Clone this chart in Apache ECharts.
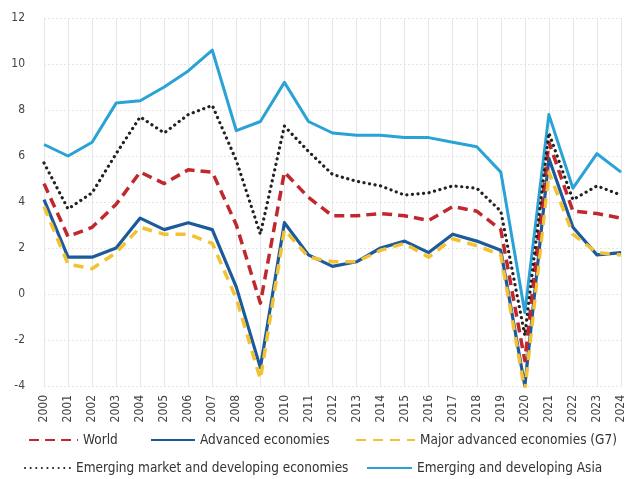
<!DOCTYPE html>
<html><head><meta charset="utf-8">
<script src="https://cdn.jsdelivr.net/npm/echarts@6/dist/echarts.min.js"></script>
<style>html,body{margin:0;padding:0;background:#fff}#c{width:629px;height:479px}</style>
</head><body><div id="c"></div>
<script>
const years = ['2000','2001','2002','2003','2004','2005','2006','2007','2008','2009','2010','2011','2012','2013','2014','2015','2016','2017','2018','2019','2020','2021','2022','2023','2024'];
const world    = [4.8, 2.5, 2.9, 3.9, 5.3, 4.8, 5.4, 5.3, 3.0, -0.4, 5.3, 4.2, 3.4, 3.4, 3.5, 3.4, 3.2, 3.8, 3.6, 2.8, -2.9, 6.6, 3.6, 3.5, 3.3];
const advanced = [4.1, 1.6, 1.6, 2.0, 3.3, 2.8, 3.1, 2.8, 0.3, -3.2, 3.1, 1.7, 1.2, 1.4, 2.0, 2.3, 1.8, 2.6, 2.3, 1.9, -4.0, 5.9, 2.9, 1.7, 1.8];
const g7       = [3.8, 1.3, 1.1, 1.8, 2.9, 2.6, 2.6, 2.2, -0.2, -3.7, 2.8, 1.6, 1.4, 1.4, 1.9, 2.2, 1.6, 2.4, 2.1, 1.7, -4.2, 5.3, 2.6, 1.8, 1.7];
const emde     = [5.7, 3.7, 4.4, 6.1, 7.7, 7.0, 7.8, 8.2, 5.8, 2.6, 7.3, 6.2, 5.2, 4.9, 4.7, 4.3, 4.4, 4.7, 4.6, 3.6, -1.8, 7.0, 4.1, 4.7, 4.3];
const asia     = [6.5, 6.0, 6.6, 8.3, 8.4, 9.0, 9.7, 10.6, 7.1, 7.5, 9.2, 7.5, 7.0, 6.9, 6.9, 6.8, 6.8, 6.6, 6.4, 5.3, -0.8, 7.8, 4.6, 6.1, 5.3];
const yTicks = [-4, -2, 0, 2, 4, 6, 8, 10, 12];

const FONT = '"Liberation Sans Narrow", "DejaVu Sans Condensed", "Liberation Sans", sans-serif';
const names = {
  world: 'World',
  adv: 'Advanced economies',
  g7: 'Major advanced economies (G7)',
  emde: 'Emerging market and developing economies',
  asia: 'Emerging and developing Asia'
};
const chart = echarts.init(document.getElementById('c'));
function line(name, data, color, width, type, z, cap) {
  return {
    name, type: 'line', data, symbol: 'none', z,
    lineStyle: { color, width, type, cap: cap || 'butt', join: 'round' },
    itemStyle: { color }
  };
}
function leg(name, left, top, w) {
  return {
    data: [name], left, top, itemWidth: w, itemHeight: 10, itemGap: 0, padding: 0,
    itemStyle: { opacity: 0 },
    textStyle: { fontFamily: FONT, fontSize: 13.5, color: '#333' }
  };
}
chart.setOption({
  animation: false,
  grid: { left: 44, right: 8, top: 18, bottom: 93, containLabel: false },
  xAxis: {
    type: 'category', data: years, boundaryGap: false,
    axisLine: { show: false }, axisTick: { show: false },
    axisLabel: { rotate: 90, margin: 9, fontFamily: FONT, fontSize: 12, color: '#444', interval: 0 },
    splitLine: { show: true, lineStyle: { color: '#e6e6e6', width: 1 } }
  },
  yAxis: {
    type: 'value', min: yTicks[0], max: yTicks[yTicks.length - 1], interval: 2,
    axisLine: { show: false }, axisTick: { show: false },
    axisLabel: { fontFamily: FONT, fontSize: 12, color: '#444', margin: 19 },
    splitLine: { show: true, lineStyle: { color: '#e6e6e6', width: 1, type: [2, 2] } }
  },
  legend: [
    leg(names.world, 28, 433, 49),
    leg(names.adv, 150, 433, 44),
    leg(names.g7, 355, 433, 59),
    leg(names.emde, 24, 461, 46),
    leg(names.asia, 366, 461, 45)
  ],
  series: [
    line(names.asia, asia, '#2aa2d6', 3, 'solid', 1),
    line(names.adv, advanced, '#1c5a9c', 3.2, 'solid', 2),
    line(names.g7, g7, '#f2c233', 3.5, [10, 7], 3),
    line(names.world, world, '#c0282e', 3.5, [10, 6], 4),
    line(names.emde, emde, '#222222', 3.2, [0.1, 5.5], 5, 'round')
  ]
});
</script></body></html>
